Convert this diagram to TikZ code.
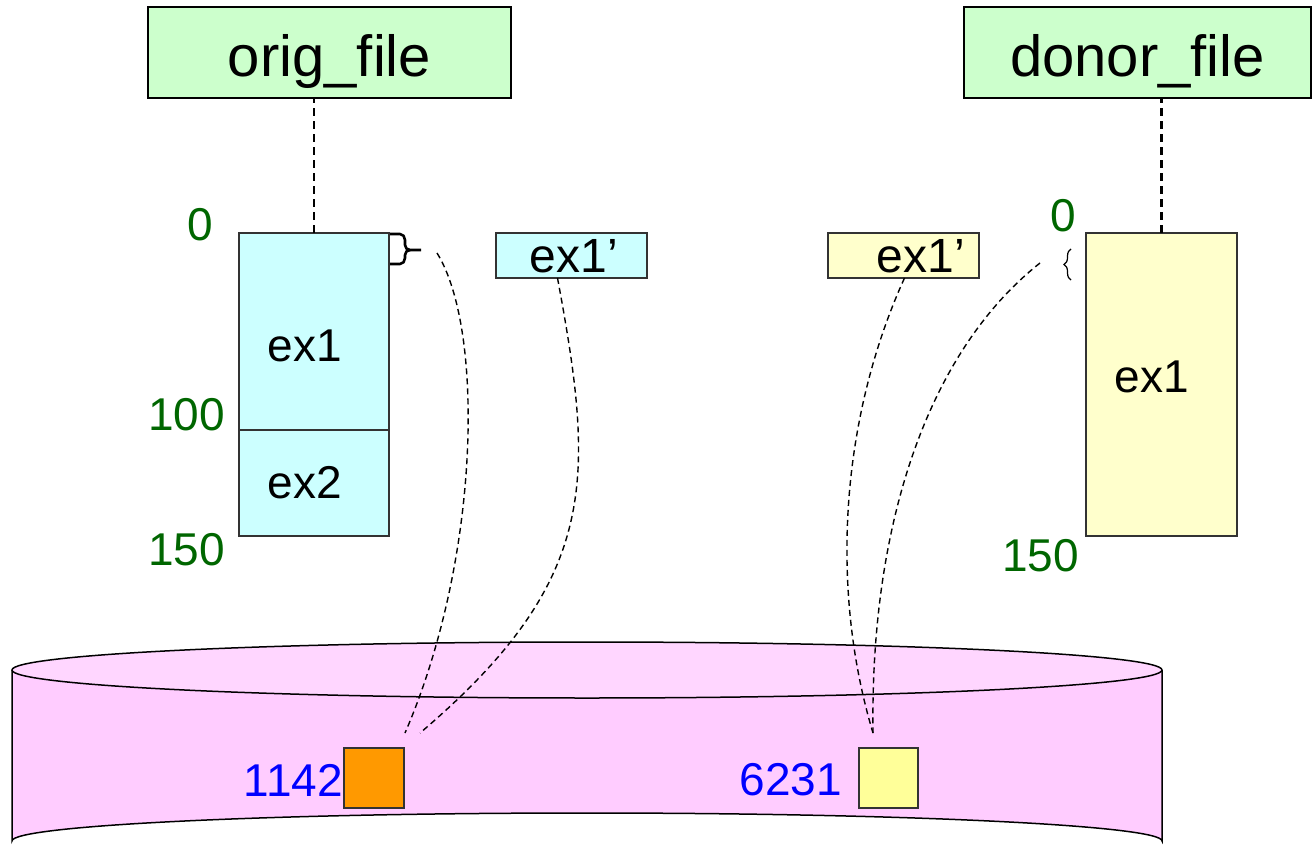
\documentclass[tikz,border=0pt]{standalone}
\usepackage{fontspec}
\setmainfont{Liberation Sans}
\usetikzlibrary{decorations.pathreplacing}

\definecolor{titlegreen}{HTML}{CCFFCC}
\definecolor{origcyan}{HTML}{CCFFFF}
\definecolor{donoryellow}{HTML}{FFFFCC}
\definecolor{blockorange}{HTML}{FF9900}
\definecolor{blockyellow}{HTML}{FFFF99}
\definecolor{diskside}{HTML}{FFCCFF}
\definecolor{disktop}{HTML}{FFD6FF}
\definecolor{offsetgreen}{HTML}{006600}
\definecolor{addrblue}{HTML}{0000FF}

\tikzset{
  titlebox/.style={draw=black, line width=2pt, fill=titlegreen, outer sep=0pt,
    minimum height=91pt, font=\fontsize{58}{60}\selectfont, anchor=north west,
    text height=49pt, text depth=0pt},
  extentbox/.style={draw=black!80, line width=1.4pt, outer sep=0pt, anchor=north west},
  extlabel/.style={font=\fontsize{46}{50}\selectfont, inner sep=0pt},
  copylabel/.style={font=\fontsize{48}{50}\selectfont, inner sep=0pt},
  offset/.style={text=offsetgreen, font=\fontsize{46}{50}\selectfont, inner sep=0pt},
  addr/.style={text=addrblue, font=\fontsize{46}{50}\selectfont, inner sep=0pt, anchor=east},
  block/.style={draw=black!80, line width=1.4pt, outer sep=0pt, minimum width=60pt,
    minimum height=60pt, anchor=north west, inner sep=0pt},
  link/.style={dash pattern=on 8pt off 5pt, line width=2.4pt},
  mapping/.style={dash pattern=on 6pt off 4pt, line width=1.4pt},
}

\begin{document}
\begin{tikzpicture}[x=1pt, y=-1pt]
\useasboundingbox (0,0) rectangle (1313,866);

% disk cylinder
\fill[diskside] (12,670) -- (12,841) arc[start angle=180, end angle=360, x radius=575, y radius=28]
  -- (1162,670) -- cycle;
\draw[line width=1.5pt] (12,670) -- (12,841) arc[start angle=180, end angle=360, x radius=575, y radius=28]
  -- (1162,670);
\draw[line width=1.5pt, fill=disktop] (587,670) ellipse[x radius=575, y radius=28];

% file titles
\node[titlebox, minimum width=363pt] (origtitle) at (148,7) {orig\_file};
\node[titlebox, minimum width=347pt] (donortitle) at (964,7) {donor\_file};

% orig_file extents
\node[extentbox, fill=origcyan, minimum width=150pt, minimum height=197pt] (oex1) at (239,233) {};
\node[extentbox, fill=origcyan, minimum width=150pt, minimum height=106pt] (oex2) at (239,430) {};
\node[extlabel] at (305,346) {ex1};
\node[extlabel] at (305,483) {ex2};

% donor_file extent
\node[extentbox, fill=donoryellow, minimum width=151pt, minimum height=303pt] (dex1) at (1086,233) {};
\node[extlabel] at (1152,377) {ex1};

% cloned extent records
\node[extentbox, fill=origcyan, minimum width=151pt, minimum height=45pt] (cex) at (496,233) {};
\node[copylabel] at (574,256) {ex1’};
\node[extentbox, fill=donoryellow, minimum width=151pt, minimum height=45pt] (dcex) at (828,233) {};
\node[copylabel] at (921,256) {ex1’};

% file offsets
\node[offset, anchor=east] at (213,225) {0};
\node[offset, anchor=east] at (225,415) {100};
\node[offset, anchor=east] at (225,550) {150};
\node[offset, anchor=east] at (1076,216) {0};
\node[offset, anchor=east] at (1079,556) {150};

% title to file links
\draw[link] (oex1.north) -- (oex1.north |- origtitle.south);
\draw[link] (dex1.north) -- (dex1.north |- donortitle.south);

% braces marking the shared range
\draw[line width=2.6pt, line join=round]
  (390,234) -- (400,234) to[out=0, in=90] (405,240) -- (405,245)
  to[out=-90, in=180] (410,250) -- (421,250);
\draw[line width=2.6pt, line join=round]
  (390,264) -- (400,264) to[out=0, in=-90] (405,258) -- (405,255)
  to[out=90, in=180] (410,250);
\draw[decorate, line width=1.2pt, decoration={brace, amplitude=7pt}] (1071,280) -- (1071,249);

% disk blocks
\node[block, fill=blockorange] (blk1) at (344,748) {};
\node[block, fill=blockyellow, minimum width=59pt] (blk2) at (859,748) {};
\node[addr] at (343,780) {1142};
\node[addr] at (842,780) {6231};

% block mappings
\coordinate (ob) at (437,253);
\coordinate (db) at (1040,263);
\coordinate (e1) at (405,733);
\coordinate (e2) at (420,733);
\coordinate (e3) at (873,733);

\draw[mapping] (ob) .. controls (485,330) and (480,560) .. (e1);
\draw[mapping] (cex.south) ++(-14,0) .. controls (595,480) and (600,580) .. (e2);
\draw[mapping] (dcex.south) ++(1,0) .. controls (840,420) and (830,590) .. (e3);
\draw[mapping] (db) .. controls (930,350) and (870,520) .. (e3);
\end{tikzpicture}
\end{document}
